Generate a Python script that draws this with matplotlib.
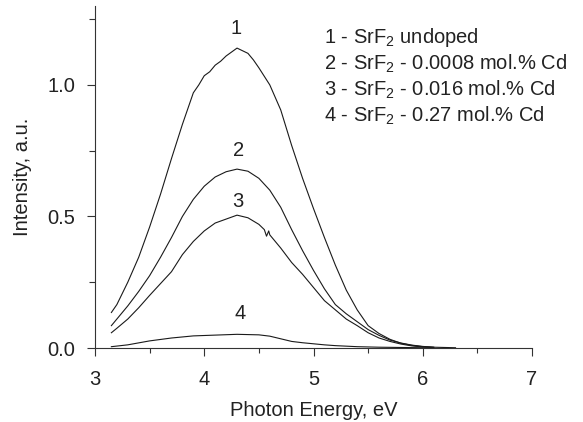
import matplotlib
matplotlib.use("Agg")
import matplotlib.pyplot as plt
from matplotlib.ticker import MultipleLocator, FormatStrFormatter

plt.rcParams['font.family'] = ['Liberation Sans', 'DejaVu Sans']
plt.rcParams['mathtext.fontset'] = 'custom'
plt.rcParams['mathtext.rm'] = 'Liberation Sans'
plt.rcParams['mathtext.default'] = 'regular'

# ---- data ----
energy1 = [3.15, 3.2, 3.3, 3.4, 3.5, 3.6, 3.7, 3.8, 3.9, 3.95, 4.0, 4.05, 4.1, 4.15, 4.2, 4.25,
           4.3, 4.35, 4.4, 4.45, 4.5, 4.6, 4.7, 4.8, 4.9, 5.0, 5.1, 5.2, 5.3, 5.4, 5.5, 5.6,
           5.7, 5.8, 5.9, 6.0, 6.1, 6.2, 6.3]
int1 = [0.135, 0.165, 0.25, 0.345, 0.46, 0.585, 0.72, 0.85, 0.97, 1.0, 1.035, 1.05, 1.075, 1.09,
        1.11, 1.125, 1.14, 1.13, 1.12, 1.095, 1.065, 1.0, 0.905, 0.77, 0.645, 0.53, 0.42, 0.315,
        0.22, 0.145, 0.085, 0.055, 0.033, 0.018, 0.01, 0.005, 0.003, 0.002, 0.001]

energy2 = [3.15, 3.2, 3.3, 3.4, 3.5, 3.6, 3.7, 3.8, 3.9, 4.0, 4.1, 4.2, 4.3, 4.4, 4.5, 4.6,
           4.7, 4.8, 4.9, 5.0, 5.1, 5.2, 5.3, 5.4, 5.5, 5.6, 5.7, 5.8, 5.9, 6.0, 6.1]
int2 = [0.085, 0.11, 0.16, 0.215, 0.275, 0.345, 0.42, 0.5, 0.565, 0.615, 0.65, 0.67, 0.68, 0.672,
        0.645, 0.60, 0.535, 0.45, 0.37, 0.295, 0.225, 0.165, 0.13, 0.1, 0.07, 0.048, 0.03, 0.019,
        0.011, 0.006, 0.003]

energy3 = [3.15, 3.2, 3.3, 3.4, 3.5, 3.6, 3.7, 3.8, 3.9, 4.0, 4.1, 4.2, 4.3, 4.4, 4.5, 4.55,
           4.57, 4.59, 4.6, 4.7, 4.8, 4.9, 5.0, 5.1, 5.2, 5.3, 5.4, 5.5, 5.6, 5.7, 5.8, 5.9,
           6.0, 6.1]
int3 = [0.058, 0.075, 0.11, 0.153, 0.2, 0.245, 0.29, 0.355, 0.405, 0.445, 0.475, 0.49, 0.505,
        0.495, 0.47, 0.45, 0.425, 0.445, 0.43, 0.38, 0.325, 0.28, 0.23, 0.18, 0.145, 0.11, 0.085,
        0.058, 0.038, 0.025, 0.015, 0.008, 0.004, 0.002]

energy4 = [3.15, 3.3, 3.5, 3.7, 3.9, 4.1, 4.3, 4.5, 4.6, 4.7, 4.8, 4.9, 5.0, 5.1, 5.2, 5.4,
           5.6, 5.8, 6.0, 6.1]
int4 = [0.005, 0.012, 0.027, 0.038, 0.046, 0.049, 0.052, 0.05, 0.045, 0.035, 0.025, 0.02,
        0.016, 0.012, 0.009, 0.005, 0.003, 0.002, 0.001, 0.0]

curve_labels = ['1', '2', '3', '4']
label_x = [4.29, 4.31, 4.31, 4.33]
label_y = [1.215, 0.75, 0.555, 0.13]

legend_lines = [
    '1 - SrF$_2$ undoped',
    '2 - SrF$_2$ - 0.0008 mol.% Cd',
    '3 - SrF$_2$ - 0.016 mol.% Cd',
    '4 - SrF$_2$ - 0.27 mol.% Cd',
]

# ---- figure ----
fs = 14.5
fig = plt.figure(figsize=(5.83, 4.22), dpi=100)
ax = fig.add_axes([95/583, 1-348/422, (532-95)/583, (348-6)/422])

lc = '#1a1a1a'
for e, i in [(energy1, int1), (energy2, int2), (energy3, int3), (energy4, int4)]:
    ax.plot(e, i, color=lc, lw=0.8)

ax.set_xlim(3, 7)
ax.set_ylim(0, 1.30)
ax.xaxis.set_major_locator(MultipleLocator(1))
ax.xaxis.set_minor_locator(MultipleLocator(0.5))
ax.yaxis.set_major_locator(MultipleLocator(0.5))
ax.yaxis.set_minor_locator(MultipleLocator(0.25))
ax.yaxis.set_major_formatter(FormatStrFormatter('%.1f'))
ax.spines['top'].set_visible(False)
ax.spines['right'].set_visible(False)
for s in ['left', 'bottom']:
    ax.spines[s].set_linewidth(0.8)
    ax.spines[s].set_color('#333333')
ax.tick_params(which='major', length=5.5, width=0.8, color='#333333', labelsize=fs,
               labelcolor='#222222')
ax.tick_params(axis='x', which='major', pad=10)
ax.tick_params(axis='y', which='major', pad=8.5)
ax.tick_params(which='minor', length=3.5, width=0.8, color='#333333')
ax.tick_params(axis='y', which='minor', length=4)

ax.set_xlabel('Photon Energy, eV', fontsize=fs, color='#222222', labelpad=9)
ax.set_ylabel('Intensity, a.u.', fontsize=fs, color='#222222', labelpad=11)

for t, x, y in zip(curve_labels, label_x, label_y):
    ax.text(x, y, t, fontsize=fs, color='#222222', ha='center', va='center')

for k, line in enumerate(legend_lines):
    ax.text((324-95)/437*4 + 3, (348-38-26*k)/263, line, fontsize=fs, color='#222222',
            ha='left', va='center')

fig.savefig('out.png', dpi=100)
